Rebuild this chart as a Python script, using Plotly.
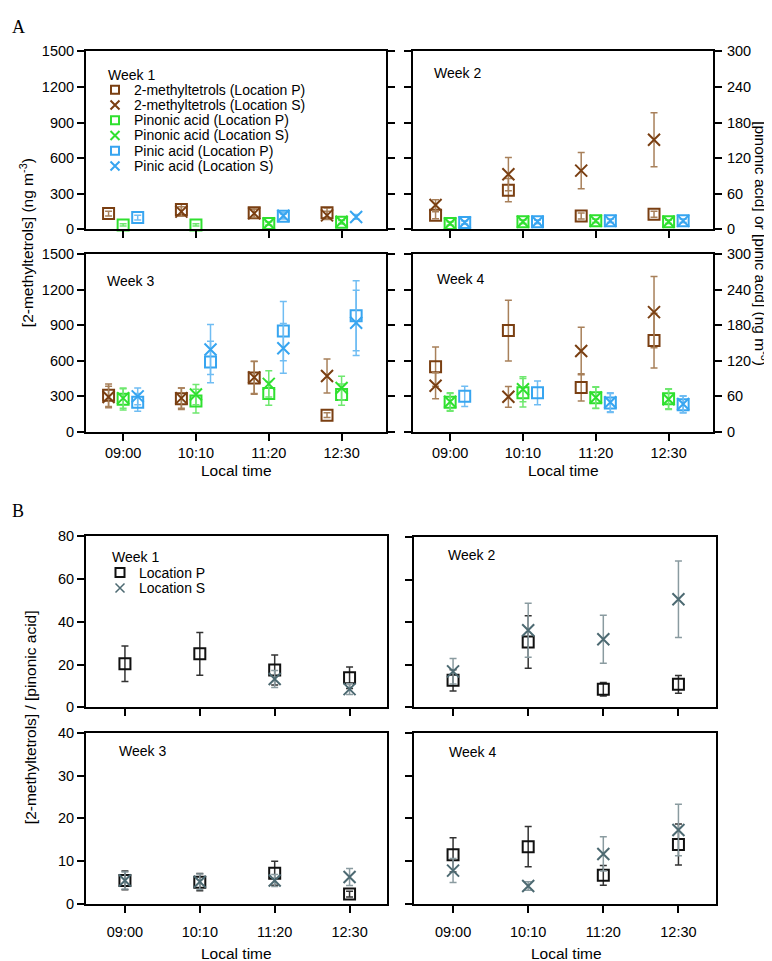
import plotly.graph_objects as go

# ---------------- data ----------------
TIMES = ["09:00", "10:10", "11:20", "12:30"]
WEEKS = ["Week 1", "Week 2", "Week 3", "Week 4"]

# Panel A: 2-methyltetrols (ng m-3, left axis), rows = weeks 1..4
MT_P = [[133, 168, 141, 140], [119, 330, 113, 127], [310, 280, 455, 141], [550, 854, 375, 770]]
MT_P_ERR = [[20, 45, 40, 40], [30, 98, 25, 25], [95, 90, 138, 20], [165, 255, 115, 230]]
MT_S = [[None, 150, 135, 118], [205, 465, 495, 755], [295, 285, 460, 472], [390, 296, 682, 1010]]
MT_S_ERR = [[None, 40, 35, 35], [45, 140, 152, 228], [90, 85, 135, 143], [110, 87, 200, 300]]

# Panel A: pinonic acid (ng m-3, right axis)
PO_P = [[7.5, 7.5, 10, 12], [10, 12.8, 14.4, 12.8], [55, 52, 65, 63], [50, 66, 57.5, 56]]
PO_P_ERR = [[2, 2, 3, 3], [3, 3, 3, 3], [18, 20, 20, 18], [15, 24, 18, 17]]
PO_S = [[None, None, 10, 13], [10, 12.8, 14.4, 12.8], [57, 63, 81, 74], [51, 72, 58, 55]]
PO_S_ERR = [[None, None, 3, 3], [3, 3, 3, 3], [17, 17, 22, 20], [15, 21, 18, 17]]

# Panel A: pinic acid (ng m-3, right axis)
PI_P = [[20, None, 22, None], [11.6, 12.8, 14.4, 14.4], [50, 118, 170, 196], [60, 66, 49, 46]]
PI_P_ERR = [[4, None, 4, None], [3, 3, 3, 3], [15, 35, 50, 59], [17, 20, 16, 14]]
PI_S = [[None, None, 23, 21], [11.6, 12.8, 14.4, 14.4], [60, 139, 141, 184], [None, None, 50, 47]]
PI_S_ERR = [[None, None, 5, 4], [3, 3, 3, 3], [14, 42, 42, 55], [None, None, 16, 14]]

# Panel B: [2-methyltetrols]/[pinonic acid]
R_P = [[20.4, 25.0, 17.4, 13.8], [12.7, 30.7, 8.5, 10.8], [5.5, 5.1, 7.2, 2.3], [11.5, 13.4, 6.7, 13.9]]
R_P_ERR = [[8.3, 10, 7, 5], [5, 12.3, 3.2, 4.2], [2.2, 2.0, 2.8, 0.7], [4, 4.7, 2.3, 4.8]]
R_S = [[None, None, 13.2, 8.5], [16.9, 36.2, 32.0, 50.8], [5.5, 5.2, 5.5, 6.3], [7.8, 4.2, 11.7, 17.3]]
R_S_ERR = [[None, None, 4, 2.5], [6, 12.7, 11.3, 18], [2.0, 1.8, 1.4, 2.0], [2.8, 1.0, 4.0, 6.0]]

LEGEND_A = ["2-methyltetrols (Location P)", "2-methyltetrols (Location S)",
            "Pinonic acid (Location P)", "Pinonic acid (Location S)",
            "Pinic acid (Location P)", "Pinic acid (Location S)"]
LEGEND_B = ["Location P", "Location S"]

# ---------------- styling ----------------
W, H = 772, 961
FONT = "Liberation Sans, Arial, Helvetica, sans-serif"
BROWN, BROWN_E = "#7a3f12", "#a8805a"
GREEN, GREEN_E = "#2fe02f", "#6fe86f"
BLUE, BLUE_E = "#37a5f0", "#70bdf3"
BLACK, BLACK_E = "#111111", "#333333"
GREY, GREY_E = "#4d6a72", "#8a9ba0"


def xd(a, b):
    return [a / W, b / W]


def yd(a, b):
    return [1 - b / H, 1 - a / H]


def px(x):
    return x / W


def py(y):
    return 1 - y / H


def ax(kind, n):
    return kind + ("axis" if n == 1 else f"axis{n}")


def ref(kind, n):
    return kind if n == 1 else f"{kind}{n}"


A_BOX = [(78, 378, 36, 217), (405, 705, 36, 217), (78, 378, 242, 423), (405, 705, 242, 423)]
B_BOX = [(78, 379, 529, 703), (406, 708, 530, 703), (78, 379, 729, 903), (406, 708, 729, 903)]

common = dict(showgrid=False, zeroline=False, showline=True, linecolor="black", linewidth=2,
              ticks="outside", ticklen=7, tickwidth=2, tickcolor="black",
              tickfont=dict(family=FONT, size=14.5, color="black"))

layout = {}
fig = go.Figure()

# series table for panel A: (values, errors, color, err color, symbol, x offset, secondary axis)
SER_A = [
    (MT_P, MT_P_ERR, BROWN, BROWN_E, "square-open", -0.2, False),
    (MT_S, MT_S_ERR, BROWN, BROWN_E, "x-thin-open", -0.2, False),
    (PO_P, PO_P_ERR, GREEN, GREEN_E, "square-open", 0.0, True),
    (PO_S, PO_S_ERR, GREEN, GREEN_E, "x-thin-open", 0.0, True),
    (PI_P, PI_P_ERR, BLUE, BLUE_E, "square-open", 0.2, True),
    (PI_S, PI_S_ERR, BLUE, BLUE_E, "x-thin-open", 0.2, True),
]
SER_B = [
    (R_P, R_P_ERR, BLACK, BLACK_E, "square-open"),
    (R_S, R_S_ERR, GREY, GREY_E, "x-thin-open"),
]

xs = [1, 2, 3, 4]

for i, (x0, x1, y0, y1) in enumerate(A_BOX):
    xn, yn, y2n = i + 1, i + 1, i + 5
    left, bottom = i % 2 == 0, i >= 2
    layout[ax("x", xn)] = dict(common, domain=xd(x0, x1), range=[0.49, 4.61], anchor=ref("y", yn),
                               tickvals=xs, ticktext=TIMES, showticklabels=bottom, mirror=True)
    layout[ax("y", yn)] = dict(common, domain=yd(y0, y1), range=[0, 1500], anchor=ref("x", xn),
                               tickvals=list(range(0, 1501, 300)), showticklabels=left,
                               mirror="ticks" if left else False)
    layout[ax("y", y2n)] = dict(common, range=[0, 300], overlaying=ref("y", yn), anchor=ref("x", xn),
                                side="right", tickvals=list(range(0, 301, 60)), visible=not left,
                                ticklabelstandoff=2)
    for vals, errs, col, ecol, sym, off, sec in SER_A:
        fig.add_trace(go.Scatter(
            x=[v + off for v in xs], y=vals[i], mode="markers",
            xaxis=ref("x", xn), yaxis=ref("y", y2n if sec else yn),
            marker=dict(symbol=sym, size=11 if "square" in sym else 12, color=col,
                        line=dict(color=col, width=2)),
            error_y=dict(type="data", array=errs[i], color=ecol, thickness=1.5, width=3.5),
            cliponaxis=False, showlegend=False))

for i, (x0, x1, y0, y1) in enumerate(B_BOX):
    xn, yn = i + 5, i + 9
    left, bottom = i % 2 == 0, i >= 2
    top_range = 80 if i < 2 else 40
    layout[ax("x", xn)] = dict(common, domain=xd(x0, x1), range=[0.48, 4.5], anchor=ref("y", yn),
                               tickvals=xs, ticktext=TIMES, showticklabels=bottom, mirror=True,
                               ticklabelstandoff=7)
    layout[ax("y", yn)] = dict(common, domain=yd(y0, y1), range=[0, top_range], anchor=ref("x", xn),
                               tickvals=list(range(0, top_range + 1, top_range // 4)),
                               showticklabels=left, mirror=True)
    for vals, errs, col, ecol, sym in SER_B:
        fig.add_trace(go.Scatter(
            x=xs, y=vals[i], mode="markers", xaxis=ref("x", xn), yaxis=ref("y", yn),
            marker=dict(symbol=sym, size=11 if "square" in sym else 12, color=col,
                        line=dict(color=col, width=2)),
            error_y=dict(type="data", array=errs[i], color=ecol, thickness=1.5, width=3.5),
            cliponaxis=False, showlegend=False))

# full-figure pixel axis for legend keys
layout[ax("x", 9)] = dict(domain=[0, 1], range=[0, W], visible=False, anchor=ref("y", 13))
layout[ax("y", 13)] = dict(domain=[0, 1], range=[H, 0], visible=False, anchor=ref("x", 9))

ann = []
tf = dict(family=FONT, size=14, color="black")

# legend A
for k, name in enumerate(LEGEND_A):
    vals, errs, col, ecol, sym, off, sec = SER_A[k]
    yy = 75 + 15.5 * k
    fig.add_trace(go.Scatter(x=[107], y=[yy], mode="markers", xaxis="x9", yaxis="y13",
                             marker=dict(symbol=sym, size=8 if "square" in sym else 9, color=col,
                                         line=dict(color=col, width=2)),
                             cliponaxis=False, showlegend=False, hoverinfo="skip"))
    ann.append(dict(x=px(124), y=py(yy), text=name, xanchor="left", yanchor="middle", font=tf))
# legend B
for k, name in enumerate(LEGEND_B):
    vals, errs, col, ecol, sym = SER_B[k]
    yy = 566 + 15.7 * k
    fig.add_trace(go.Scatter(x=[112], y=[yy], mode="markers", xaxis="x9", yaxis="y13",
                             marker=dict(symbol=sym, size=9, color=col,
                                         line=dict(color=col, width=2 if "square" in sym else 1.5)),
                             cliponaxis=False, showlegend=False, hoverinfo="skip"))
    ann.append(dict(x=px(129), y=py(yy), text=name, xanchor="left", yanchor="middle", font=tf))

# week labels
WEEK_POS_A = [(98, 60), (424, 58), (97, 269), (427, 267)]
WEEK_POS_B = [(102, 550), (438, 548), (109, 747), (439, 748)]
for k in range(4):
    for (wx, wy) in (WEEK_POS_A[k], WEEK_POS_B[k]):
        ann.append(dict(x=px(wx), y=py(wy), text=WEEKS[k], xanchor="left", yanchor="middle", font=tf))

# axis titles
tt = dict(family=FONT, size=15.5, color="black")
ann.append(dict(x=px(19), y=py(231), text="[2-methyltetrols] (ng m<sup>-3</sup>)", textangle=-90,
                xanchor="center", yanchor="middle", font=tt))
ann.append(dict(x=px(753), y=py(231), text="[pinonic acid] or [pinic acid] (ng m<sup>-3</sup>)",
                textangle=90, xanchor="center", yanchor="middle", font=tt))
ann.append(dict(x=px(22), y=py(713), text="[2-methyltetrols] / [pinonic acid]", textangle=-90,
                xanchor="center", yanchor="middle", font=tt))
for (cx, cy) in [(228, 462), (555, 462), (228, 953), (558, 953)]:
    ann.append(dict(x=px(cx), y=py(cy), text="Local time", xanchor="center", yanchor="middle", font=tt))

# panel letters
lf = dict(family="Liberation Serif, Times New Roman, serif", size=18, color="black")
ann.append(dict(x=px(2), y=py(11), text="A", xanchor="left", yanchor="middle", font=lf))
ann.append(dict(x=px(2), y=py(503), text="B", xanchor="left", yanchor="middle", font=lf))

for a in ann:
    a.update(xref="paper", yref="paper", showarrow=False)

fig.update_layout(**layout)
fig.update_layout(width=W, height=H, margin=dict(l=0, r=0, t=0, b=0),
                  paper_bgcolor="white", plot_bgcolor="rgba(0,0,0,0)",
                  showlegend=False, annotations=ann, font=dict(family=FONT, color="black"))

fig.write_html("out.html")
